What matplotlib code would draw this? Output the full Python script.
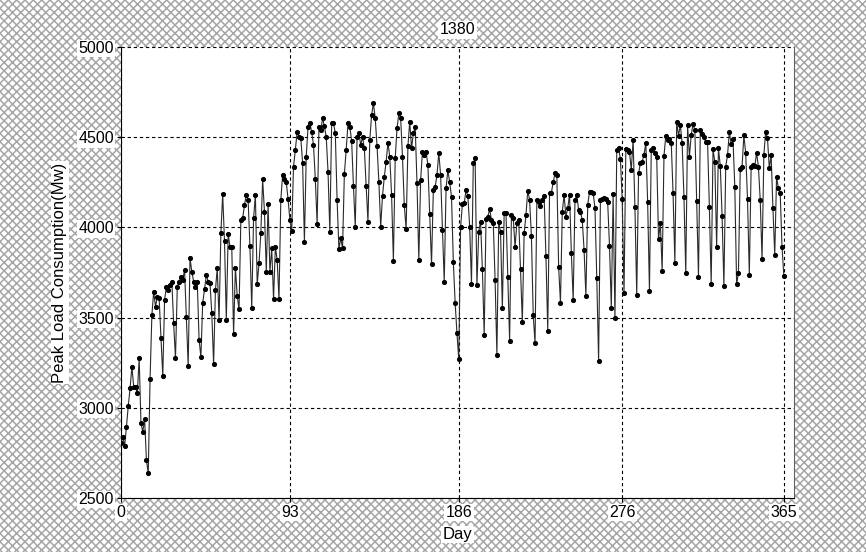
import numpy as np
import matplotlib
matplotlib.use("Agg")
import matplotlib.pyplot as plt
from matplotlib.patches import Rectangle

title = "1380"
x_label = "Day"
y_label = "Peak Load Consumption(Mw)"
x_ticks = [0, 93, 186, 276, 365]
y_ticks = [2500, 3000, 3500, 4000, 4500, 5000]

load_q1 = [2803, 2840, 2788, 2895, 3010, 3108, 3228, 3117, 3117, 3080,
           3274, 2914, 2868, 2938, 2711, 2637, 3158, 3514, 3644, 3561,
           3616, 3607, 3385, 3176, 3598, 3671, 3653, 3680, 3699, 3468,
           3274, 3671, 3700, 3727, 3710, 3764, 3505, 3232, 3829, 3755,
           3700, 3671, 3699, 3376, 3282, 3583, 3657, 3736, 3700, 3690,
           3524, 3243, 3653, 3773, 3487, 3967, 4185, 3922, 3486, 3963,
           3893, 3890, 3409, 3777, 3620, 3546, 4041, 4050, 4124, 4180,
           4152, 3897, 3552, 4050, 4180, 3686, 3800, 3967, 4267, 4087,
           3754, 4130, 3754, 3884, 3601, 3893, 3820, 3601, 4152, 4290]
load_q2 = [4267, 4253, 4156, 4041, 3982, 4337, 4429, 4531, 4500, 4494,
           4359, 3921, 4393, 4558, 4577, 4530, 4457, 4267, 4019, 4558,
           4540, 4605, 4560, 4503, 4309, 3976, 4577, 4577, 4525, 4150,
           3879, 3940, 3884, 4296, 4429, 4577, 4558, 4481, 4229, 4004,
           4500, 4525, 4457, 4500, 4440, 4229, 4032, 4485, 4623, 4688,
           4605, 4451, 4253, 4004, 4174, 4281, 4364, 4470, 4392, 4180,
           3814, 4383, 4549, 4632, 4605, 4392, 4124, 3990, 4451, 4586,
           4438, 4521, 4558, 4244, 3819, 4263, 4420, 4401, 4420, 4346,
           4074, 3796, 4207, 4226, 4290, 4414, 4290, 3986, 3699, 4216,
           4318, 4250, 4170]
load_q3 = [3810, 3583, 3413, 3270, 4001, 4130, 4134, 4207, 4174, 4004,
           3686, 4355, 4383, 3681, 3976, 4032, 3768, 3404, 4045, 4060,
           4101, 4041, 4023, 3709, 3293, 4032, 3976, 3552, 4078, 4078,
           3727, 3372, 4069, 4050, 3893, 4023, 4041, 3768, 3478, 3967,
           4069, 4204, 4152, 3952, 3514, 3357, 4152, 4143, 4119, 4150,
           4174, 3842, 3427, 4193, 4193, 4250, 4300, 4290, 3779, 3583,
           4087, 4180, 4060, 4107, 4180, 3856, 3598, 4152, 4180, 4097,
           4087, 4040, 3875, 3620, 4124, 4198, 4195, 4193, 4107, 3718,
           3260, 4152, 4156, 4161, 4156, 4140, 3897, 3552, 4185, 3496]
load_q4 = [4429, 4438, 4380, 4156, 3638, 4433, 4429, 4420, 4318,
           4485, 4112, 3625, 4300, 4355, 4364, 4401, 4470, 4143, 3649,
           4429, 4438, 4410, 4392, 3934, 4026, 3758, 4396, 4507, 4485,
           4488, 4470, 4189, 3804, 4586, 4507, 4568, 4466, 4170,
           3745, 4568, 4392, 4512, 4573, 4540, 4148, 3723, 4540, 4520,
           4500, 4476, 4476, 4112, 3686, 4433, 4364, 3890, 4438, 4341,
           4063, 3675, 4337, 4401, 4531, 4460, 4488, 4226, 3686, 3745,
           4322, 4337, 4512, 4411, 4156, 3736, 4337, 4346, 4341, 4411,
           4337, 4152, 3823, 4401, 4531, 4494, 4327, 4401, 4107, 3847,
           4281, 4216, 4189, 3893, 3731]

load = load_q1 + load_q2 + load_q3 + load_q4
days = np.arange(len(load))

plt.rcParams['font.family'] = ['Liberation Sans', 'DejaVu Sans']
plt.rcParams['hatch.color'] = '#a6a6a6'
plt.rcParams['hatch.linewidth'] = 1.1

fig = plt.figure(figsize=(8.66, 5.52), dpi=100)
fig.patch.set_facecolor('white')
bg = Rectangle((0, 0), 1, 1, transform=fig.transFigure, facecolor='white',
               edgecolor='#a6a6a6', hatch='xxxx', linewidth=0, zorder=-10)
fig.patches.append(bg)

ax = fig.add_axes([121/866, 1-498/552, (794-121)/866, (498-47)/552])
ax.set_facecolor('white')
ax.plot(days, load, color='#2a2a2a', lw=0.8, marker='o', ms=2.7,
        mfc='black', mec='black', zorder=3)

ax.set_xlim(0, 370.6)
ax.set_ylim(2500, 5000)
ax.set_xticks(x_ticks)
ax.set_yticks(y_ticks)
ax.grid(True, color='black', linestyle=(0, (3, 2.5)), linewidth=0.8)
ax.set_axisbelow(True)

ax.spines['top'].set_visible(False)
ax.spines['right'].set_color('#606060')
ax.spines['left'].set_color('black')
ax.spines['bottom'].set_color('black')
ax.tick_params(direction='out', length=3, labelsize=11.5, color='black', pad=2)

box = dict(facecolor='white', edgecolor='none', pad=1.0)
for lab in ax.get_xticklabels() + ax.get_yticklabels():
    lab.set_bbox(box)

ax.set_xlabel(x_label, fontsize=12, labelpad=5, bbox=box)
ax.set_ylabel(y_label, fontsize=12, labelpad=8, bbox=box)
ax.set_title(title, fontsize=11.5, pad=9, bbox=box)

fig.savefig('out.png', dpi=100)
